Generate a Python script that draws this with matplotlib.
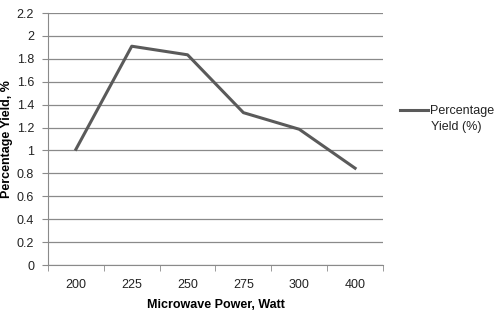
import matplotlib
matplotlib.use("Agg")
import matplotlib.pyplot as plt

# --- Data ---
categories = ["200", "225", "250", "275", "300", "400"]
yield_pct = [1.01, 1.91, 1.835, 1.33, 1.185, 0.845]
y_ticks = [0, 0.2, 0.4, 0.6, 0.8, 1, 1.2, 1.4, 1.6, 1.8, 2, 2.2]
y_tick_labels = ["0", "0.2", "0.4", "0.6", "0.8", "1", "1.2", "1.4", "1.6", "1.8", "2", "2.2"]
series_name = ["Percentage", "Yield (%)"]

plt.rcParams["font.family"] = ["Liberation Sans", "DejaVu Sans"]
FS = 9

fig = plt.figure(figsize=(4.96, 3.16), dpi=100)
ax = fig.add_axes([48 / 496, 1 - 265 / 316, (383 - 48) / 496, (265 - 13) / 316])

x = list(range(len(categories)))
line, = ax.plot(x, yield_pct, color="#5a5a5a", linewidth=2.2, solid_joinstyle="round")

ax.set_xlim(-0.5, len(categories) - 0.5)
ax.set_ylim(0, 2.2)
ax.set_yticks(y_ticks)
ax.set_yticklabels(y_tick_labels)
ax.set_xticks(x)
ax.set_xticklabels(categories)
ax.set_xticks([i - 0.5 for i in range(len(categories) + 1)], minor=True)

ax.grid(True, axis="y", color="#8a8a8a", linewidth=0.9)
ax.set_axisbelow(True)
for side in ["top", "right"]:
    ax.spines[side].set_visible(False)
ax.spines["left"].set_color("#8a8a8a")
ax.spines["bottom"].set_color("#8a8a8a")
ax.tick_params(axis="y", length=4, color="#8a8a8a", labelsize=FS, pad=6, labelcolor="#222222")
ax.tick_params(axis="x", which="major", length=0, labelsize=FS, pad=10, labelcolor="#222222")
ax.tick_params(axis="x", which="minor", length=4, color="#8a8a8a")

ax.set_xlabel("Microwave Power, Watt", fontsize=FS, fontweight="bold", labelpad=6)
ax.set_ylabel("Percentage Yield, %", fontsize=FS, fontweight="bold", labelpad=3)

# legend: handle aligned with the first line of the series name, as in Excel
leg = fig.legend([line], [series_name[0]], loc="center left",
                 bbox_to_anchor=(400 / 496, 1 - 111 / 316), frameon=False,
                 fontsize=FS, handlelength=2.2, handletextpad=0.2,
                 borderpad=0, borderaxespad=0)
fig.text(431 / 496, 1 - 127 / 316, series_name[1], fontsize=FS, va="center",
         ha="left", color="#222222")
for t in leg.get_texts():
    t.set_color("#222222")

fig.savefig("out.png", dpi=100)
